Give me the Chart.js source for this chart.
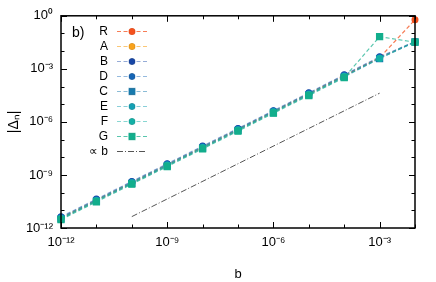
<!DOCTYPE html>
<html lang="en">
  <head>
    <meta charset="UTF-8" />
    <title>Delta vs b</title>
    <script src="https://cdn.jsdelivr.net/npm/chart.js@4/dist/chart.umd.min.js"></script>
    <style>
      body { margin: 0; background: #fff; }
      #wrap { width: 436px; height: 282px; }
    </style>
  </head>
  <body>
    <div id="wrap"><canvas id="deltaChart"></canvas></div>
    <script>
      // values
      const bValues = [1e-12, 1e-11, 1e-10, 1e-9, 1e-8, 1e-7, 1e-6, 1e-5, 1e-4, 1e-3, 1e-2];
      const seriesR = [3.6e-12, 3.6e-11, 3.6e-10, 3.6e-9, 3.6e-8, 3.7e-7, 3.7e-6, 3.8e-5, 4.0e-4, 4.2e-3, 6.0e-1];
      const seriesA = [3.7e-12, 3.7e-11, 3.7e-10, 3.7e-9, 3.7e-8, 3.7e-7, 3.8e-6, 3.9e-5, 4.0e-4, 4.2e-3, 3.4e-2];
      const seriesB = [4.3e-12, 4.3e-11, 4.3e-10, 4.3e-9, 4.3e-8, 4.3e-7, 4.3e-6, 4.4e-5, 4.6e-4, 4.8e-3, 3.5e-2];
      const seriesD = [4.0e-12, 4.0e-11, 4.0e-10, 4.0e-9, 4.0e-8, 4.0e-7, 4.1e-6, 4.2e-5, 4.3e-4, 4.5e-3, 3.4e-2];
      const seriesC = [3.3e-12, 3.3e-11, 3.3e-10, 3.3e-9, 3.3e-8, 3.3e-7, 3.4e-6, 3.4e-5, 3.5e-4, 3.8e-3, 3.3e-2];
      const seriesE = [3.6e-12, 3.6e-11, 3.6e-10, 3.6e-9, 3.6e-8, 3.6e-7, 3.7e-6, 3.7e-5, 3.8e-4, 4.0e-3, 3.4e-2];
      const seriesF = [3.5e-12, 3.5e-11, 3.5e-10, 3.5e-9, 3.5e-8, 3.5e-7, 3.6e-6, 3.6e-5, 3.7e-4, 3.9e-3, 3.3e-2];
      const seriesG = [3.0e-12, 3.0e-11, 3.0e-10, 3.0e-9, 3.0e-8, 3.0e-7, 3.1e-6, 3.1e-5, 3.2e-4, 6.6e-2, 3.2e-2];
      const refX = [1e-10, 1e-3];
      const refY = [4.4e-12, 4.2e-5];

      const seriesNames = ["R", "A", "B", "D", "C", "E", "F", "G"];
      const seriesData = [seriesR, seriesA, seriesB, seriesD, seriesC, seriesE, seriesF, seriesG];
      const markColors = ["#f4511e", "#f9a21b", "#1746a6", "#1565b5", "#177aad", "#14a0b4", "#13b0a6", "#12ae8c"];
      const lineColors = ["rgba(244,81,30,0.75)", "rgba(249,162,27,0.6)", "rgba(23,70,166,0.45)", "rgba(21,101,181,0.45)",
                          "rgba(23,122,173,0.5)", "rgba(20,160,180,0.5)", "rgba(19,176,166,0.5)", "rgba(18,174,140,0.7)"];
      const markStyles = ["circle", "circle", "circle", "circle", "rect", "circle", "circle", "rect"];

      const xMin = 1e-12, xMax = 1e-2, yMin = 1e-12, yMax = 1;

      const datasets = seriesData.map((vals, i) => ({
        label: seriesNames[i],
        data: bValues.map((b, k) => ({ x: b, y: vals[k] })),
        borderColor: lineColors[i],
        backgroundColor: markColors[i],
        pointBorderColor: markColors[i],
        pointStyle: markStyles[i],
        pointRadius: markStyles[i] == "rect" ? 4.3 : 2.9,
        borderWidth: 1.2,
        borderDash: [4, 2.5],
        clip: false,
        order: seriesNames.length - i,
      }));
      datasets.push({
        label: "\u221d b",
        data: refX.map((x, k) => ({ x: x, y: refY[k] })),
        borderColor: "#555",
        borderWidth: 1,
        borderDash: [6, 2, 1, 2],
        pointRadius: 0,
        order: 0,
      });

      const sup = { "0": "\u2070", "1": "\u00b9", "2": "\u00b2", "3": "\u00b3", "6": "\u2076", "9": "\u2079", "-": "\u207b" };
      const powLabel = (v) => {
        const e = Math.round(Math.log10(v));
        if (e % 3 != 0) return "";
        return "10" + String(e).split("").map((c) => sup[c]).join("");
      };
      const decadeTicks = (scale) => {
        const t = [];
        for (let e = Math.round(Math.log10(scale.min)); e <= Math.round(Math.log10(scale.max)); e++) t.push({ value: Math.pow(10, e) });
        scale.ticks = t;
      };

      // gnuplot style frame with inward ticks on all four sides
      const framePlugin = {
        id: "frame",
        afterDatasetsDraw(chart) {
          const ctx = chart.ctx, a = chart.chartArea;
          const xs = chart.scales.x, ys = chart.scales.y;
          ctx.save();
          ctx.strokeStyle = "#000";
          ctx.lineWidth = 1;
          ctx.beginPath();
          for (let e = -12; e <= -2; e++) {
            const px = Math.round(xs.getPixelForValue(Math.pow(10, e))) + 0.5;
            const len = e % 3 == 0 ? 6 : 3.5;
            ctx.moveTo(px, a.bottom); ctx.lineTo(px, a.bottom - len);
            ctx.moveTo(px, a.top); ctx.lineTo(px, a.top + len);
          }
          for (let e = -12; e <= 0; e++) {
            const py = Math.round(ys.getPixelForValue(Math.pow(10, e))) + 0.5;
            const len = e % 3 == 0 ? 6 : 3.5;
            ctx.moveTo(a.left, py); ctx.lineTo(a.left + len, py);
            ctx.moveTo(a.right, py); ctx.lineTo(a.right - len, py);
          }
          ctx.stroke();
          ctx.lineWidth = 1.5;
          ctx.strokeRect(a.left, a.top, a.right - a.left, a.bottom - a.top);

          // panel tag
          ctx.fillStyle = "#000";
          ctx.font = "14px 'Liberation Sans', Arial, sans-serif";
          ctx.textBaseline = "middle";
          ctx.textAlign = "left";
          ctx.fillText("b)", 72, 33);

          // legend: label on the left, sample on the right
          ctx.font = "12px 'Liberation Sans', Arial, sans-serif";
          chart.data.datasets.forEach((ds, i) => {
            const y = 31 + i * 15;
            ctx.fillStyle = "#000";
            ctx.textAlign = "right";
            ctx.fillText(ds.label, 108, y + 0.5);
            ctx.strokeStyle = ds.borderColor;
            ctx.lineWidth = ds.borderWidth;
            ctx.setLineDash(ds.borderDash);
            ctx.beginPath();
            ctx.moveTo(117, y + 0.5); ctx.lineTo(147, y + 0.5);
            ctx.stroke();
            ctx.setLineDash([]);
            if (ds.pointRadius > 0) {
              Chart.helpers.drawPoint(ctx, {
                pointStyle: ds.pointStyle, radius: ds.pointRadius, borderWidth: 1, rotation: 0,
              }, 132, y + 0.5);
              ctx.fillStyle = ds.backgroundColor;
              ctx.fill();
            }
          });
          ctx.restore();
        },
      };

      Chart.defaults.font.family = "'Liberation Sans', Arial, sans-serif";
      Chart.defaults.color = "#000";

      new Chart(document.getElementById("deltaChart"), {
        type: "line",
        data: { datasets: datasets },
        options: {
          responsive: true,
          maintainAspectRatio: false,
          animation: false,
          layout: { padding: { top: 14, right: 21, left: 0, bottom: 0 } },
          plugins: { legend: { display: false }, tooltip: { enabled: false } },
          elements: { point: { borderWidth: 1 }, line: { tension: 0 } },
          scales: {
            x: {
              type: "logarithmic",
              min: xMin,
              max: xMax,
              afterBuildTicks: decadeTicks,
              afterFit: (s) => { s.height = 54; },
              grid: { display: false, drawTicks: false },
              border: { display: false },
              ticks: { autoSkip: false, maxRotation: 0, padding: 7, font: { size: 13 }, callback: powLabel },
              title: { display: true, text: "b", font: { size: 13 }, padding: { top: 0, bottom: 0 } },
            },
            y: {
              type: "logarithmic",
              min: yMin,
              max: yMax,
              afterBuildTicks: decadeTicks,
              afterFit: (s) => { s.width = 61; },
              grid: { display: false, drawTicks: false },
              border: { display: false },
              ticks: { autoSkip: false, padding: 8, font: { size: 13 }, callback: powLabel },
              title: { display: true, text: "|\u0394\u2099|", font: { size: 14 }, padding: { top: 6, bottom: 0 } },
            },
          },
        },
        plugins: [framePlugin],
      });
    </script>
  </body>
</html>
